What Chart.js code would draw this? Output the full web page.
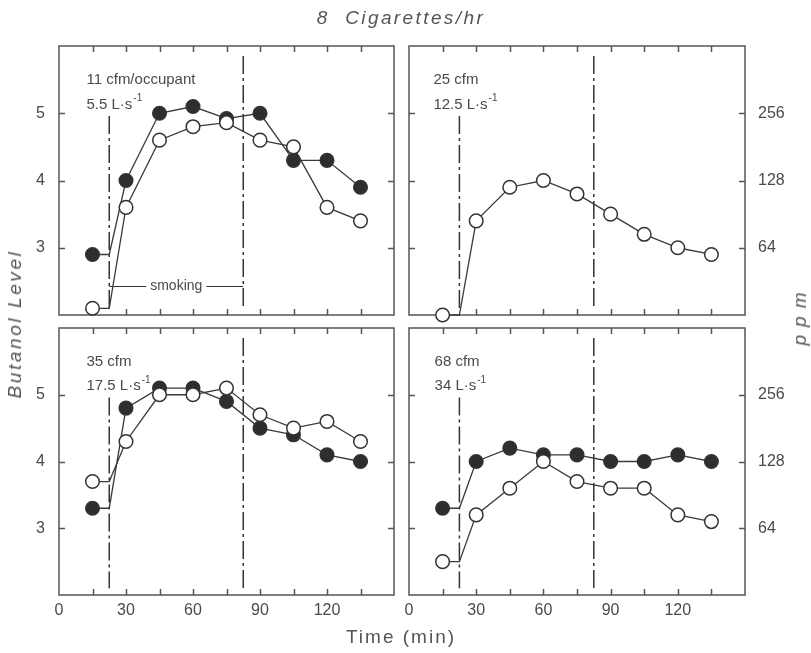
<!DOCTYPE html>
<html>
<head>
<meta charset="utf-8">
<title>8 Cigarettes/hr</title>
<script src="https://cdn.jsdelivr.net/npm/chart.js@4/dist/chart.umd.min.js"></script>
<style>
  html, body { margin: 0; padding: 0; background: #fff; }
  #wrap { position: relative; width: 811px; height: 653px; overflow: hidden;
          font-family: "Liberation Sans", Arial, sans-serif; color: #555; font-weight: normal; }
  #wrap canvas { position: absolute; left: 0; top: 0; }
  .t { position: absolute; white-space: nowrap; transform: translate(-50%, -50%); font-weight: normal; }
  .rot { transform: translate(-50%, -50%) rotate(-90deg); }
</style>
</head>
<body>
<div id="wrap">
  <canvas id="p0" width="811" height="653"></canvas>
  <canvas id="p1" width="811" height="653"></canvas>
  <canvas id="p2" width="811" height="653"></canvas>
  <canvas id="p3" width="811" height="653"></canvas>
  <div class="t" style="left:401px;top:18px;font-size:19px;font-style:italic;letter-spacing:2.4px;">8&nbsp; Cigarettes/hr</div>
  <div class="t" style="left:401px;top:637px;font-size:19px;letter-spacing:2px;">Time (min)</div>
  <div class="t rot" style="left:15px;top:324px;font-size:19px;font-style:italic;letter-spacing:2.6px;">Butanol Level</div>
  <div class="t rot" style="left:800px;top:315px;font-size:19px;font-style:italic;letter-spacing:8px;">ppm</div>
</div>
<script>
// Sampling times (min) and axis ticks
const times = [15, 30, 45, 60, 75, 90, 105, 120, 135];
const timeMarks = [15, 30, 45, 60, 75, 90, 105, 120, 135];
const timeLabels = [0, 30, 60, 90, 120];
const levelTicks = [3, 4, 5];
const ppmTicks = [64, 128, 256];
// Smoking starts and stops (min)
const smokingPeriod = [22.5, 82.5];

// Butanol level readings, filled and open symbols, per ventilation rate
const filled11 = [2.9, 4.0, 5.0, 5.1, 4.92, 5.0, 4.3, 4.3, 3.9];
const open11   = [2.1, 3.6, 4.6, 4.8, 4.86, 4.6, 4.5, 3.6, 3.4];
const open25   = [2.0, 3.4, 3.9, 4.0, 3.8, 3.5, 3.2, 3.0, 2.9];
const filled35 = [3.3, 4.8, 5.1, 5.1, 4.9, 4.5, 4.4, 4.1, 4.0];
const open35   = [3.7, 4.3, 5.0, 5.0, 5.1, 4.7, 4.5, 4.6, 4.3];
const filled68 = [3.3, 4.0, 4.2, 4.1, 4.1, 4.0, 4.0, 4.1, 4.0];
const open68   = [2.5, 3.2, 3.6, 4.0, 3.7, 3.6, 3.6, 3.2, 3.1];

const FONT = '"Liberation Sans", Arial, sans-serif';
const TEXT = '#4a4a4a';
const INK = '#333';
const W = 811, H = 653;
const Y_AXIS_W = 50, X_AXIS_H = 30;

// Panel layout: frame = [left, top, right, bottom] in page pixels
const panels = [
  { canvas: 'p0', frame: [59, 46, 394, 315], left: true,  bottom: false, labelAt: 12.3,
    rate: '11 cfm/occupant', flow: '5.5 L·s', filled: filled11, open: open11, smoking: true },
  { canvas: 'p1', frame: [409, 46, 745, 315], left: false, bottom: false, labelAt: 10.9,
    rate: '25 cfm', flow: '12.5 L·s', filled: null, open: open25, smoking: false },
  { canvas: 'p2', frame: [59, 328, 394, 595], left: true,  bottom: true, labelAt: 12.3,
    rate: '35 cfm', flow: '17.5 L·s', filled: filled35, open: open35, smoking: false },
  { canvas: 'p3', frame: [409, 328, 745, 595], left: false, bottom: true, labelAt: 11.4,
    rate: '68 cfm', flow: '34 L·s', filled: filled68, open: open68, smoking: false }
];

// The pre-smoking reading holds flat until the first cigarette is lit
function seriesPoints(values) {
  const pts = times.map((t, i) => ({ x: t, y: values[i] }));
  pts.splice(1, 0, { x: smokingPeriod[0], y: values[0] });
  return pts;
}

function seriesDataset(values, filled) {
  return {
    data: seriesPoints(values),
    order: filled ? 1 : 0,
    borderColor: '#3a3a3a',
    borderWidth: 1.3,
    backgroundColor: filled ? '#2e2e2e' : '#ffffff',
    pointBackgroundColor: filled ? '#2e2e2e' : '#ffffff',
    pointBorderColor: INK,
    pointBorderWidth: 1.5,
    pointRadius: ctx => (ctx.index === 1 ? 0 : 6.8),
    pointHoverRadius: ctx => (ctx.index === 1 ? 0 : 6.8),
    tension: 0,
    clip: false
  };
}

function markerLine(t, top) {
  return {
    data: [{ x: t, y: top }, { x: t, y: 2.1 }],
    order: 2,
    borderColor: INK,
    borderWidth: 1.5,
    borderDash: [18, 4, 3, 4],
    pointRadius: 0,
    clip: false
  };
}

// Frame with inward ticks, panel captions and the smoking bracket
const framePlugin = {
  id: 'panelFrame',
  beforeDatasetsDraw(chart, args, opts) {
    const { ctx, chartArea: a, scales: { x, y } } = chart;
    ctx.save();
    ctx.strokeStyle = '#555';
    ctx.lineWidth = 1.5;
    ctx.strokeRect(a.left, a.top, a.right - a.left, a.bottom - a.top);
    ctx.beginPath();
    timeMarks.forEach(t => {
      const px = Math.round(x.getPixelForValue(t)) + 0.5;
      ctx.moveTo(px, a.top); ctx.lineTo(px, a.top + 6);
      ctx.moveTo(px, a.bottom); ctx.lineTo(px, a.bottom - 6);
    });
    levelTicks.forEach(v => {
      const py = Math.round(y.getPixelForValue(v)) + 0.5;
      ctx.moveTo(a.left, py); ctx.lineTo(a.left + 6, py);
      ctx.moveTo(a.right, py); ctx.lineTo(a.right - 6, py);
    });
    ctx.stroke();

    // captions
    ctx.fillStyle = TEXT;
    ctx.textBaseline = 'middle';
    ctx.textAlign = 'left';
    ctx.font = '15px ' + FONT;
    const lx = x.getPixelForValue(opts.labelAt);
    ctx.fillText(opts.rate, lx, y.getPixelForValue(5.5));
    const fy = y.getPixelForValue(5.13);
    ctx.fillText(opts.flow, lx, fy);
    const fw = ctx.measureText(opts.flow).width;
    ctx.font = '10px ' + FONT;
    ctx.fillText('-1', lx + fw + 1, fy - 6);

    if (opts.smoking) {
      ctx.font = '14px ' + FONT;
      const label = 'smoking';
      const ly = Math.round(y.getPixelForValue(2.43)) + 0.5;
      const x0 = x.getPixelForValue(smokingPeriod[0]);
      const x1 = x.getPixelForValue(smokingPeriod[1]);
      const cx = (x0 + x1) / 2;
      const half = ctx.measureText(label).width / 2 + 4;
      ctx.strokeStyle = INK;
      ctx.lineWidth = 1.1;
      ctx.beginPath();
      ctx.moveTo(x0, ly); ctx.lineTo(cx - half, ly);
      ctx.moveTo(cx + half, ly); ctx.lineTo(x1, ly);
      ctx.stroke();
      ctx.textAlign = 'center';
      ctx.fillText(label, cx, ly);
    }
    ctx.restore();
  }
};

function tickFont() { return { family: FONT, size: 16 }; }

panels.forEach(p => {
  const [L, T, R, B] = p.frame;
  const datasets = [
    markerLine(smokingPeriod[0], 4.96),
    markerLine(smokingPeriod[1], 5.85),
    seriesDataset(p.open, false)
  ];
  if (p.filled) datasets.push(seriesDataset(p.filled, true));

  new Chart(document.getElementById(p.canvas), {
    type: 'line',
    data: { datasets },
    plugins: [framePlugin],
    options: {
      responsive: false,
      animation: false,
      devicePixelRatio: 1,
      events: [],
      layout: {
        padding: { left: L - Y_AXIS_W, top: T, right: W - R - Y_AXIS_W, bottom: H - B - X_AXIS_H }
      },
      plugins: {
        legend: { display: false },
        tooltip: { enabled: false },
        panelFrame: { rate: p.rate, flow: p.flow, labelAt: p.labelAt, smoking: p.smoking }
      },
      scales: {
        x: {
          type: 'linear', min: 0, max: 150,
          afterBuildTicks: s => { s.ticks = timeLabels.map(v => ({ value: v })); },
          afterFit: s => { s.height = X_AXIS_H; },
          ticks: { display: p.bottom, autoSkip: false, maxRotation: 0, padding: 6,
                   color: TEXT, font: tickFont(), callback: v => String(v) },
          grid: { display: false, drawTicks: false },
          border: { display: false }
        },
        y: {
          type: 'linear', position: 'left', min: 2, max: 6,
          afterBuildTicks: s => { s.ticks = levelTicks.map(v => ({ value: v })); },
          afterFit: s => { s.width = Y_AXIS_W; },
          ticks: { display: p.left, padding: 14, color: TEXT, font: tickFont(),
                   callback: v => String(v) },
          grid: { display: false, drawTicks: false },
          border: { display: false }
        },
        ppm: {
          type: 'logarithmic', position: 'right', min: 32, max: 512,
          afterBuildTicks: s => { s.ticks = ppmTicks.map(v => ({ value: v })); },
          afterFit: s => { s.width = Y_AXIS_W; },
          ticks: { display: !p.left, padding: 13, color: TEXT, font: tickFont(),
                   callback: v => String(v) },
          grid: { display: false, drawTicks: false },
          border: { display: false }
        }
      }
    }
  });
});
</script>
</body>
</html>
